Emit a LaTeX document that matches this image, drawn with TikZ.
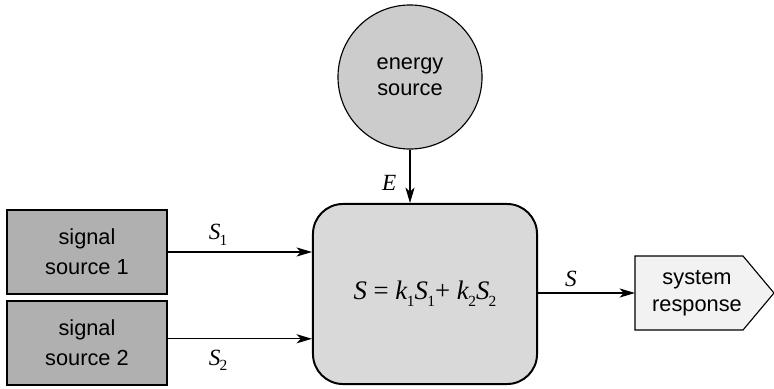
\documentclass[tikz,border=0pt]{standalone}
\usepackage{fontspec}
\setmainfont{Liberation Sans}
\newfontfamily\eqfont{Liberation Serif}
\usetikzlibrary{positioning,arrows.meta}
\newcommand{\vr}[2]{\textit{#1}\kern-0.5pt\raisebox{-0.55ex}{\fontsize{11}{11}\selectfont #2}}

\begin{document}
\begin{tikzpicture}[
  x=0.025cm, y=-0.025cm,
  font=\fontsize{15.5}{21.5}\selectfont,
  srcbox/.style={draw, line width=0.8pt, fill=gray!62, minimum width=4cm,
                 minimum height=2.1cm, align=center, inner sep=2pt},
  energy/.style={draw, circle, line width=0.8pt, fill=gray!40, minimum size=3.6cm,
                 align=center, inner sep=0pt, font=\fontsize{15.5}{18.5}\selectfont},
  system/.style={draw, line width=1.4pt, rounded corners=0.75cm, fill=gray!30,
                 minimum width=5.6cm, minimum height=4.5cm, align=center},
  resptext/.style={align=center, inner sep=0pt, font=\fontsize{15.5}{19}\selectfont},
  respshape/.style={draw, line width=0.8pt, fill=gray!10},
  lbl/.style={font=\eqfont\fontsize{16.5}{18}\selectfont},
  arrow/.style={-{Stealth[length=11pt, width=6.5pt, inset=3pt]}, line width=0.8pt}
]
\useasboundingbox (0,0) rectangle (774,388);
\node[system] (sys) at (425,294) {\eqfont\fontsize{19}{22}\selectfont
  \textit{S} = \vr{k}{1}\vr{S}{1}+ \vr{k}{2}\vr{S}{2}};
\node[energy] (en) at (410,77) {energy\\source};
\node[srcbox] (s1) at (87,252) {signal\\source 1};
\node[srcbox] (s2) at (87,343) {signal\\source 2};

% pentagon for the response, text on top
\coordinate (respin) at (635,293);
\draw[respshape] (respin) -- ++(0,-37) -- ++(108,0) -- ++(31,37)
  -- ++(-31,37) -- ++(-108,0) -- cycle;
\node[resptext] (out) at (697,293) {system\\response};

\draw[arrow] (s1.east) -- (s1.east -| sys.west)
  node[lbl, pos=0.35, above=1pt] {\vr{S}{1}};
\draw[arrow] ([yshift=3pt]s2.east) -- ([yshift=3pt]s2.east -| sys.west)
  node[lbl, pos=0.35, below=4pt] {\vr{S}{2}};
\draw[arrow] (en.south) -- (en.south |- sys.north)
  node[lbl, pos=0.62, left=6pt] {\textit{E}};
\draw[arrow] (sys.east |- respin) -- (respin)
  node[lbl, pos=0.34, above=1pt] {\textit{S}};
\end{tikzpicture}
\end{document}
